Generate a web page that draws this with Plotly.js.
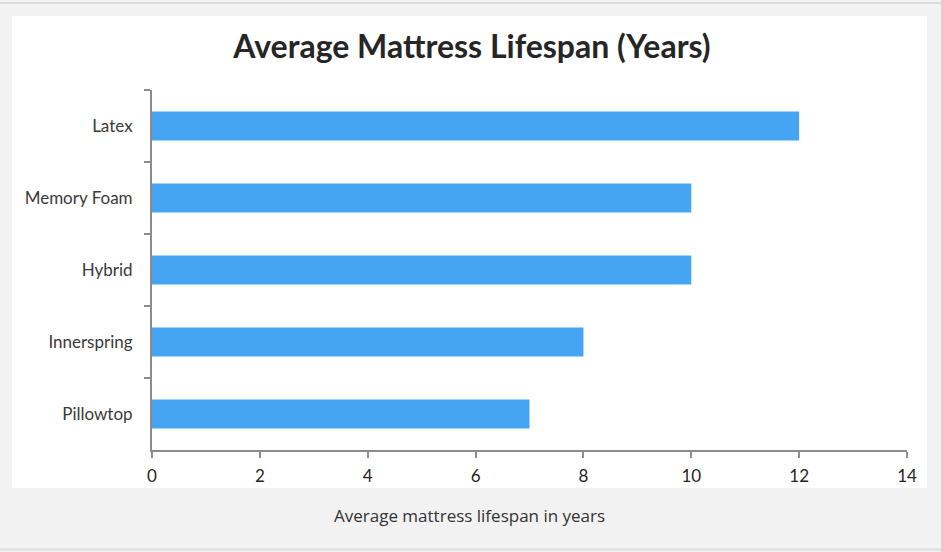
<!DOCTYPE html>
<html>
<head>
<meta charset="utf-8">
<script src="https://cdn.plot.ly/plotly-3.0.1.min.js"></script>
<style>html,body{margin:0;padding:0;background:#f2f2f2;}#chart{width:941px;height:552px;}</style>
</head>
<body>
<div id="chart"></div>
<script>
const categories = ["Latex", "Memory Foam", "Hybrid", "Innerspring", "Pillowtop"];
const lifespanYears = [12, 10, 10, 8, 7];
const xTickValues = [0, 2, 4, 6, 8, 10, 12, 14];

const trace = {
  type: "bar",
  orientation: "h",
  y: categories,
  x: lifespanYears,
  width: 0.4,
  marker: {color: "#45a5f2", line: {width: 0}},
  hoverinfo: "x+y"
};

const layout = {
  width: 941, height: 552,
  paper_bgcolor: "#f2f2f2",
  plot_bgcolor: "#ffffff",
  margin: {l: 152, r: 34, t: 90, b: 102},
  showlegend: false,
  title: {
    text: "<b>Average Mattress Lifespan (Years)</b>",
    font: {family: "Lato, 'Open Sans', sans-serif", size: 32, color: "#262626"},
    x: 472 / 941, xanchor: "center",
    y: 1 - 47 / 552, yanchor: "middle"
  },
  xaxis: {
    range: [0, 14],
    tickvals: xTickValues,
    ticktext: xTickValues.map(String),
    showgrid: false, zeroline: false,
    showline: true, linecolor: "#8c8c8c", linewidth: 2,
    ticks: "outside", ticklen: 6, tickwidth: 2, tickcolor: "#8c8c8c",
    ticklabelstandoff: 4,
    tickfont: {family: "Lato, 'Open Sans', sans-serif", size: 17, color: "#262626"},
    fixedrange: true
  },
  yaxis: {
    autorange: "reversed",
    type: "category",
    showgrid: false, zeroline: false,
    showline: true, linecolor: "#8c8c8c", linewidth: 2,
    ticks: "outside", tickson: "boundaries", ticklen: 6, tickwidth: 2, tickcolor: "#8c8c8c",
    ticklabelstandoff: 14,
    tickfont: {family: "Lato, 'Open Sans', sans-serif", size: 17, color: "#3a3a3a"},
    fixedrange: true
  },
  shapes: [
    {type: "rect", xref: "paper", yref: "paper", layer: "below",
     x0: (12 - 152) / 755, x1: (927 - 152) / 755,
     y0: (450 - 488) / 360, y1: (450 - 16) / 360,
     fillcolor: "#ffffff", line: {width: 0}},
    {type: "line", xref: "paper", yref: "paper", layer: "below",
     x0: -152 / 755, x1: (941 - 152) / 755,
     y0: (450 - 3) / 360, y1: (450 - 3) / 360,
     line: {color: "#dcdcdc", width: 2}},
    {type: "line", xref: "paper", yref: "paper", layer: "below",
     x0: -152 / 755, x1: (941 - 152) / 755,
     y0: (450 - 549.5) / 360, y1: (450 - 549.5) / 360,
     line: {color: "#dcdcdc", width: 2}}
  ],
  annotations: [
    {text: "Average mattress lifespan in years", xref: "paper", yref: "paper",
     x: (469 - 152) / 755, y: (450 - 515) / 360, xanchor: "center", yanchor: "middle",
     showarrow: false,
     font: {family: "'Open Sans', sans-serif", size: 17, color: "#333333"}}
  ]
};

Plotly.newPlot("chart", [trace], layout, {displayModeBar: false, staticPlot: true});
</script>
</body>
</html>
